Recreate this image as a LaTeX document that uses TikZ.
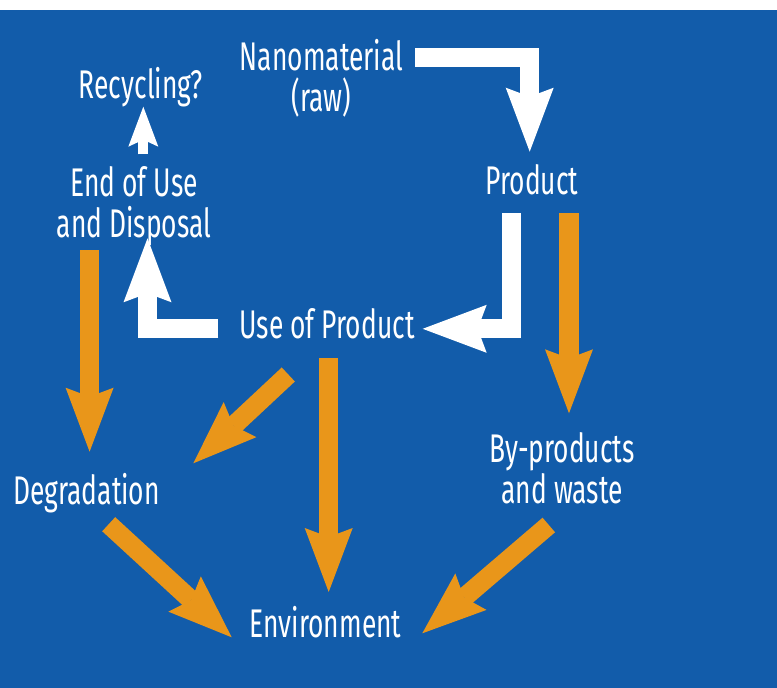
\documentclass[tikz,border=0pt]{standalone}
\usepackage{fontspec}
\setmainfont{Fira Sans}[FakeStretch=0.66]
\usetikzlibrary{arrows.meta}
\definecolor{bg}{RGB}{18,92,170}
\definecolor{org}{RGB}{233,150,26}
\begin{document}
\begin{tikzpicture}[x=1pt,y=-1pt,
  lbl/.style={text=white,font=\fontsize{40}{41}\selectfont,inner sep=0pt,anchor=base},
  bigarrow/.style={line width=19.2pt,line join=miter,
    -{Stealth[length=64pt,width=48pt,inset=9pt,line width=0pt]}},
  warrow/.style={bigarrow,draw=white},
  oarrow/.style={bigarrow,draw=org},
  smallarrow/.style={draw=white,line width=10pt,
    -{Stealth[length=40pt,width=30pt,inset=7pt,line width=0pt]}}]
\useasboundingbox (0,0) rectangle (777,688);
\fill[white] (0,0) rectangle (777,9.5);
\fill[bg] (0,9.5) rectangle (777,688);

% labels
\node[lbl] (nano)  at (321.5,70.5) {Nanomaterial};
\node[lbl] (raw)   at (321.5,111.5){(raw)};
\node[lbl] (recyc) at (141,98.3)   {Recycling?};
\node[lbl] (end)   at (134,196.7)  {End of Use};
\node[lbl] (disp)  at (134,237.7)  {and Disposal};
\node[lbl] (prod)  at (532,194.5)  {Product};
\node[lbl] (use)   at (327,338)    {Use of Product};
\node[lbl] (degr)  at (86.5,504.5) {Degradation};
\node[lbl] (byp)   at (562,462.5)  {By-products};
\node[lbl] (waste) at (562,503.5)  {and waste};
\node[lbl] (env)   at (325.5,637.5){Environment};

% connector end points
\coordinate (a1s) at (415,57.8);
\coordinate (a1c) at (529.7,57.8);
\coordinate (a1e) at (529.7,151.7);
\coordinate (a2s) at (511.2,213.3);
\coordinate (a2c) at (511.2,328.8);
\coordinate (a2e) at (422.7,328.8);
\coordinate (a3s) at (218.3,328.8);
\coordinate (a3c) at (147.5,328.8);
\coordinate (a3e) at (147.5,238.3);
\coordinate (a4s) at (143.3,154.3);
\coordinate (a4e) at (143.3,106.7);
\coordinate (bAs) at (569,213.3);
\coordinate (bAe) at (569,413.3);
\coordinate (bBs) at (89.6,250);
\coordinate (bBe) at (89.6,451.7);
\coordinate (bCs) at (288.3,374.5);
\coordinate (bCe) at (193.3,463.3);
\coordinate (bDs) at (328.7,358.3);
\coordinate (bDe) at (328.7,592);
\coordinate (bEs) at (108.7,524.2);
\coordinate (bEe) at (231.7,637.3);
\coordinate (bFs) at (548.8,525);
\coordinate (bFe) at (422.3,633.3);

% white flow
\draw[warrow] (a1s) -- (a1c) -- (a1e);
\draw[warrow] (a2s) -- (a2c) -- (a2e);
\draw[warrow] (a3s) -- (a3c) -- (a3e);
\draw[smallarrow] (a4s) -- (a4e);

% orange flow
\draw[oarrow] (bAs) -- (bAe);
\draw[oarrow] (bBs) -- (bBe);
\draw[oarrow] (bCs) -- (bCe);
\draw[oarrow] (bDs) -- (bDe);
\draw[oarrow] (bEs) -- (bEe);
\draw[oarrow] (bFs) -- (bFe);
\end{tikzpicture}
\end{document}
